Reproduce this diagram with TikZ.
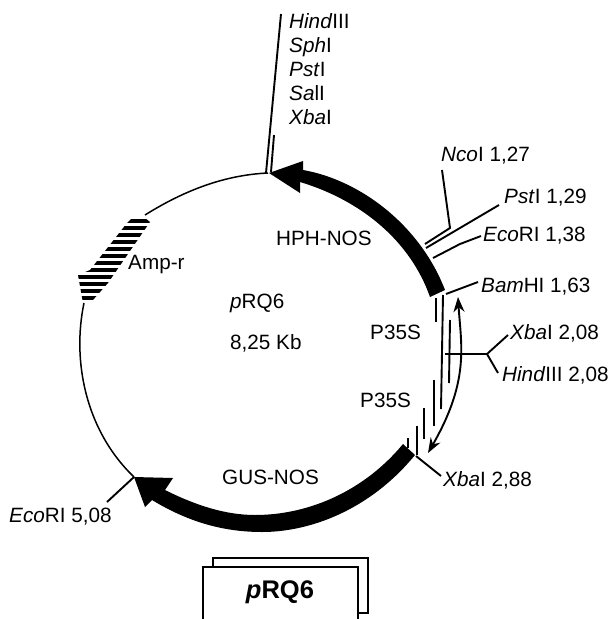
\documentclass[tikz,border=0pt]{standalone}
\usepackage{fontspec}
\setmainfont{Liberation Sans}
\usetikzlibrary{arrows.meta, positioning}

\begin{document}
\begin{tikzpicture}[
    x=1pt, y=-1pt,
    every node/.style={font=\fontsize{20.7}{24}\selectfont, align=left, inner sep=2pt},
    site/.style={anchor=west},
    tick/.style={line width=1.9pt},
    backbone/.style={line width=1.5pt},
    titlebox/.style={line width=1.7pt}
]
\useasboundingbox (0,0) rectangle (611,619);

\draw[backbone] (268,173) .. controls (225,175) and (185,190) .. (145,215);
\draw[backbone] (84,303) .. controls (72,360) and (85,430) .. (134,477);

\fill (269,173) -- (303,161) -- (303,170)
    .. controls (360,180) and (420,225) .. (445,290)
    -- (430,297)
    .. controls (410,240) and (360,200) .. (300,182)
    -- (300,193) -- cycle;
\fill (415,455)
    .. controls (370,510) and (310,532) .. (262,532)
    .. controls (220,532) and (185,520) .. (152,500)
    -- (145,507) -- (134,477) -- (173,478) -- (165,490)
    .. controls (195,505) and (225,515) .. (255,515)
    .. controls (310,515) and (365,490) .. (403,444)
    -- cycle;

\begin{scope}
\clip (138,212) -- (127,223) -- (90,270) -- (78,275) -- (83,303) -- (93,300) -- (108,283) -- (150,222) -- cycle;
\foreach \y in {221,228,...,305}
    \draw[line width=4pt] (70,\y) -- (160,\y);
\end{scope}

\node[site] (hph) at (274,238) {HPH-NOS};
\node[site] (amp) at (126,265) {Amp-r};
\node[site] (name) at (228,303) {\textit{p}RQ6};
\node[site, below=18pt of name.south west, anchor=north west] (size) {8,25 Kb};
\node[site] (gus) at (220,477) {GUS-NOS};
\node[site] (ptop) at (368,332) {P35S};
\node[site] (pbot) at (358,400) {P35S};

\node[anchor=north west] (mcs) at (287,11) {\textit{Hind}III\\\textit{Sph}I\\\textit{Pst}I\\\textit{Sa}lI\\\textit{Xba}I};
\node[site] (nco) at (439,156) {\textit{Nco}I 1,27};
\node[site] (pst) at (502,198) {\textit{Pst}I 1,29};
\node[site] (ecoa) at (481,236) {\textit{Eco}RI 1,38};
\node[site] (bam) at (479,287) {\textit{Bam}HI 1,63};
\node[site] (xbaa) at (508,333) {\textit{Xba}I 2,08};
\node[site] (hindb) at (500,375) {\textit{Hind}III 2,08};
\node[site] (xbab) at (441,480) {\textit{Xba}I 2,88};
\node[site] (ecob) at (7,517) {\textit{Eco}RI 5,08};

\coordinate (mcsend) at (281,14);
\coordinate (mcsbase) at (266,173);
\coordinate (mcsbar) at (274,135);
\coordinate (mcsfoot) at (271,172);
\coordinate (ncoend) at (442,170);
\coordinate (ncobend) at (450,228);
\coordinate (ncofoot) at (425,244);
\coordinate (pstend) at (499,205);
\coordinate (pstfoot) at (426,248);
\coordinate (ecobend) at (460,244);
\coordinate (ecofoot) at (433,258);
\coordinate (bamend) at (478,282);
\coordinate (bamfoot) at (446,294);
\coordinate (forkstart) at (445,354);
\coordinate (fork) at (487,354);
\coordinate (xbaend) at (508,335);
\coordinate (hindend) at (498,373);
\coordinate (xbafoot) at (416,456);
\coordinate (xbaarm) at (441,476);
\coordinate (ecofootb) at (134,477);
\coordinate (ecoarm) at (107,502);
\coordinate (spanup) at (458,297);
\coordinate (spandown) at (428,453);

\draw[tick] (mcsend) -- (mcsbase);
\draw[tick] (mcsbar) -- (mcsfoot);
\draw[tick] (ncoend) -- (ncobend) -- (ncofoot);
\draw[tick] (pstend) -- (pstfoot);
\draw[tick] (ecoa.west) -- (ecobend) -- (ecofoot);
\draw[tick] (bamend) -- (bamfoot);
\draw[tick] (forkstart) -- (fork) -- (xbaend);
\draw[tick] (fork) -- (hindend);
\draw[tick] (xbafoot) -- (xbaarm);
\draw[tick] (ecofootb) -- (ecoarm);

\foreach \xa/\ya/\xb/\yb in {436/298/436/322, 443/295/441/409, 450/320/449/383, 434/380/434/426,
    424/408/424/439, 417/426/417/455, 408/438/408/448}
    \draw[tick] (\xa,\ya) -- (\xb,\yb);

\draw[tick, {Stealth[length=15pt,width=11pt]}-{Stealth[length=15pt,width=11pt]}]
    (spanup) .. controls (461,345) and (470,380) .. (spandown);

\draw[titlebox] (213,567) -- (213,558) -- (368,558) -- (368,613) -- (358,613);
\draw[titlebox] (203,619) -- (203,567) -- (358,567) -- (358,619);
\node[font=\fontsize{25.5}{30}\selectfont\bfseries] (label) at (280,592) {\textit{p}RQ6};
\end{tikzpicture}
\end{document}
